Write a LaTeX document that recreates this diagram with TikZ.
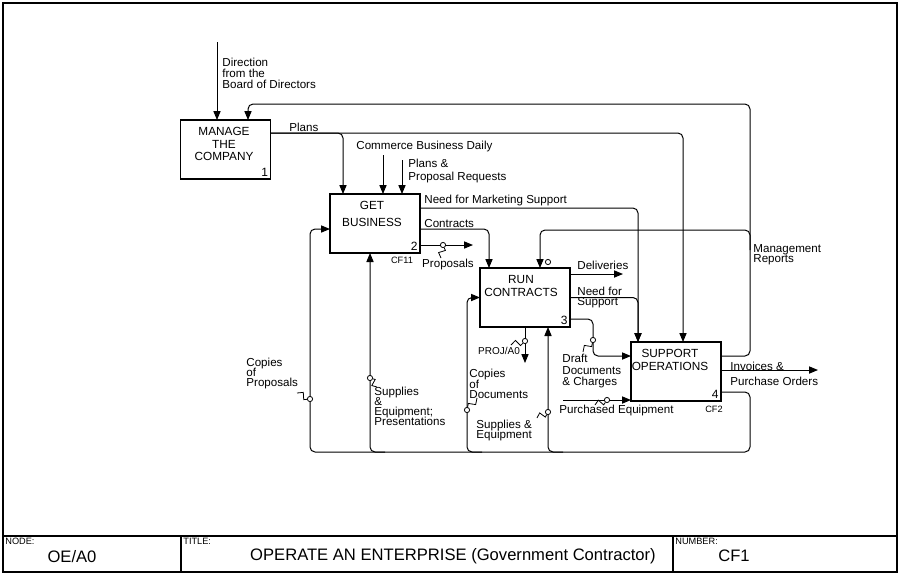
\documentclass[tikz,border=0pt]{standalone}
\usepackage{fontspec}
\setmainfont{Liberation Sans}
\usepackage{tikz}
\usetikzlibrary{
    arrows.meta,
    calc
}
\setlength{\lineskiplimit}{-10pt}
\tikzset{
    activity/.style={
        rectangle,
        draw=black,
        line width=0.7pt,
        minimum width=45pt,
        minimum height=29.5pt,
        inner sep=0pt,
        outer sep=0pt
    },
    acttext/.style={
        anchor=north,
        align=center,
        inner sep=0pt
    },
    actno/.style={
        anchor=south east,
        inner sep=0pt,
        font=\fontsize{6}{6}\selectfont
    },
    lbl/.style={
        align=left,
        inner sep=0pt,
        font=\fontsize{5.8}{5.3}\selectfont
    },
    smalllbl/.style={
        inner sep=0pt,
        font=\fontsize{4.6}{5}\selectfont
    },
    flow/.style={
        -{Triangle[length=4.5pt,width=3.6pt]},
        line width=0.5pt,
        rounded corners=2.5pt
    },
    tunnel/.style={
        circle,
        draw=black,
        fill=white,
        line width=0.4pt,
        inner sep=0pt,
        minimum size=2.6pt
    },
    squig/.style={
        line width=0.4pt,
        to path={
            -- ($(\tikztostart)!0.38!(\tikztotarget)!1.6pt!90:(\tikztotarget)$)
            -- ($(\tikztostart)!0.62!(\tikztotarget)!1.6pt!-90:(\tikztotarget)$)
            -- (\tikztotarget)
        }
    },
    frame/.style={
        line width=0.7pt
    },
    cellhead/.style={
        anchor=north west,
        inner sep=0pt,
        font=\fontsize{4.6}{5}\selectfont
    },
    celltext/.style={
        inner sep=0pt,
        font=\fontsize{8.3}{9}\selectfont
    }
}

\begin{document}
\begin{tikzpicture}[x=0.5pt, y=-0.5pt]
\useasboundingbox (0,0) rectangle (900,575);

% frame and title block
\draw[frame] (3,3) rectangle (897,572);
\draw[frame] (3,536) -- (897,536);
\draw[frame] (181,536) -- (181,572);
\draw[frame] (673,536) -- (673,572);
\node[cellhead] (nodehd) at (5,538) {NODE:};
\node[celltext] (nodeno) at (72,557) {OE/A0};
\node[cellhead] (titlehd) at (183,538) {TITLE:};
\node[celltext] (title) at (453,556) {OPERATE AN ENTERPRISE (Government Contractor)};
\node[cellhead] (numhd) at (675,538) {NUMBER:};
\node[celltext] (numno) at (734,556) {CF1};

% activity boxes
\node[activity] (manage) at (225.5,149.5) {};
\node[activity] (getbiz) at (375,223.5) {};
\node[activity] (runcon) at (525,297.5) {};
\node[activity] (support) at (676,371.5) {};

\node[acttext, font=\fontsize{5.9}{6.25}\selectfont] (manage-t) at (224,127) {MANAGE\\THE\\COMPANY};
\node[acttext, font=\fontsize{5.9}{8.5}\selectfont] (getbiz-t) at (372,201) {GET\\BUSINESS};
\node[acttext, font=\fontsize{5.9}{6.25}\selectfont] (runcon-t) at (521,275) {RUN\\CONTRACTS};
\node[acttext, font=\fontsize{5.9}{6.5}\selectfont] (support-t) at (670,349) {SUPPORT\\OPERATIONS};

\node[actno] (manage-n) at ([xshift=-1pt,yshift=1pt]manage.south east) {1};
\node[actno] (getbiz-n) at ([xshift=-1pt,yshift=1pt]getbiz.south east) {2};
\node[actno] (runcon-n) at ([xshift=-1pt,yshift=1pt]runcon.south east) {3};
\node[actno] (support-n) at ([xshift=-1pt,yshift=1pt]support.south east) {4};
\node[smalllbl] (getbiz-ref) at (402,260) {CF11};
\node[smalllbl] (support-ref) at (714,409) {CF2};

% free ends
\coordinate (board) at (217,42);
\coordinate (cbd) at (383,155);
\coordinate (ppr) at (402,160);
\coordinate (mrsplit) at (750,250);
\coordinate (propend) at (473,245);
\coordinate (delivend) at (623,274);
\coordinate (projend) at (525,363);
\coordinate (peqstart) at (563,400);
\coordinate (invend) at (818,370);
\coordinate (fb1) at (385,452);
\coordinate (fb2) at (482,452);
\coordinate (fb3) at (563,452);

% controls and feedback
\draw[flow] (board) -- (board |- manage.north);
\draw[flow] ([yshift=7.75pt]support.east) -| (750,104) -| ([xshift=11.25pt]manage.north);
\draw[flow] (mrsplit) -- (750,230) -| ([xshift=7.5pt]runcon.north);
\draw[flow] ([yshift=8.25pt]manage.east) -| ([xshift=-16pt]getbiz.north);
\draw[flow] ([yshift=8.25pt]manage.east) -| ([xshift=3.5pt]support.north);
\draw[flow] (cbd) -- (cbd |- getbiz.north);
\draw[flow] (ppr) -- (ppr |- getbiz.north);
\draw[flow] ([yshift=7.75pt]getbiz.east) -| ([xshift=-19pt]support.north);
\draw[flow] ([yshift=-2.75pt]getbiz.east) -| ([xshift=-18pt]runcon.north);
\draw[flow] ([yshift=-10.75pt]getbiz.east) -- (propend);
\draw[flow] ([yshift=11.75pt]runcon.east) -- (delivend);
\draw[flow] (runcon.east) -| ([xshift=-19pt]support.north);
\draw[flow] ([yshift=-10.75pt]runcon.east) -| (593,340) |- ([yshift=7.75pt]support.west);
\draw[flow] (peqstart) -- ([yshift=-14.25pt]support.west);
\draw[flow] ([yshift=0.75pt]support.east) -- (invend);
\draw[flow] (runcon.south) -- (projend);

% mechanisms back from support
\draw[flow] ([yshift=-10.25pt]support.east) -| (750,452) -| (310,240) |- ([yshift=-2.75pt]getbiz.west);
\draw[flow] (fb1) -| ([xshift=-2.5pt]getbiz.south);
\draw[flow] (fb2) -| (467,310) |- (runcon.west);
\draw[flow] (fb3) -| ([xshift=11.5pt]runcon.south);

% tunnels
\node[tunnel] (t-prop) at (443,245) {};
\node[tunnel] (t-draft) at (593,340) {};
\node[tunnel] (t-peq) at (607,400) {};
\node[tunnel] (t-cprop) at (310,399) {};
\node[tunnel] (t-sep) at (370,378) {};
\node[tunnel] (t-cdoc) at (467,410) {};
\node[tunnel] (t-seq) at (548,412) {};
\node[tunnel] (t-proj) at (525,341) {};
\node[tunnel] (t-mr) at (548,262) {};

% labels
\node[lbl, anchor=north west, font=\fontsize{5.8}{5.5}\selectfont] (dir-l) at (222,58) {Direction\\from the\\Board of Directors};
\node[lbl, anchor=west] (plans-l) at (289,127) {Plans};
\node[lbl, anchor=west] (cbd-l) at (356,146) {Commerce Business Daily};
\node[lbl, anchor=north west, font=\fontsize{5.8}{6.5}\selectfont] (ppr-l) at (408,159) {Plans \&\\Proposal Requests};
\node[lbl, anchor=west] (nms-l) at (424,200) {Need for Marketing Support};
\node[lbl, anchor=west] (cont-l) at (424,223) {Contracts};
\node[lbl] (prop-l) at (448,264) {Proposals};
\node[lbl, anchor=west] (deliv-l) at (577,265) {Deliveries};
\node[lbl, anchor=north west, font=\fontsize{5.8}{5}\selectfont] (nfs-l) at (577,287) {Need for\\Support};
\node[lbl, anchor=north west, font=\fontsize{5.8}{5}\selectfont] (mr-l) at (753,244) {Management\\Reports};
\node[lbl, anchor=north west, font=\fontsize{5.8}{5.75}\selectfont] (draft-l) at (562,354) {Draft\\Documents\\\& Charges};
\node[lbl, anchor=west] (inv-l) at (730,366) {Invoices \&};
\node[lbl, anchor=west] (po-l) at (730,381) {Purchase Orders};
\node[lbl, anchor=west] (peq-l) at (559,410) {Purchased Equipment};
\node[lbl, anchor=north west, font=\fontsize{5.8}{5}\selectfont] (cprop-l) at (246,358) {Copies\\of\\Proposals};
\node[lbl, anchor=north west, font=\fontsize{5.8}{5}\selectfont] (sep-l) at (374,387) {Supplies\\\&\\Equipment;\\Presentations};
\node[lbl, anchor=north west, font=\fontsize{5.8}{5.25}\selectfont] (cdoc-l) at (469,369) {Copies\\of\\Documents};
\node[lbl, anchor=north west, font=\fontsize{5.8}{5}\selectfont] (seq-l) at (476,420) {Supplies \&\\Equipment};
\node[smalllbl, font=\fontsize{5}{5}\selectfont] (proj-l) at (499,351) {PROJ/A0};

% squiggles
\coordinate (s-prop) at (441,258);
\coordinate (s-draft) at (583,352);
\coordinate (s-peq) at (595,405);
\coordinate (s-cprop) at (297,393);
\coordinate (s-sep) at (377,387);
\coordinate (s-cdoc) at (477,398);
\coordinate (s-seq) at (537,418);
\coordinate (s-proj) at (511,345);
\draw[squig] (s-prop) to (t-prop);
\draw[squig] (s-draft) to (t-draft);
\draw[squig] (s-peq) to (t-peq);
\draw[squig] (s-cprop) to (t-cprop);
\draw[squig] (s-sep) to (t-sep);
\draw[squig] (s-cdoc) to (t-cdoc);
\draw[squig] (s-seq) to (t-seq);
\draw[squig] (s-proj) to (t-proj);

\end{tikzpicture}
\end{document}
